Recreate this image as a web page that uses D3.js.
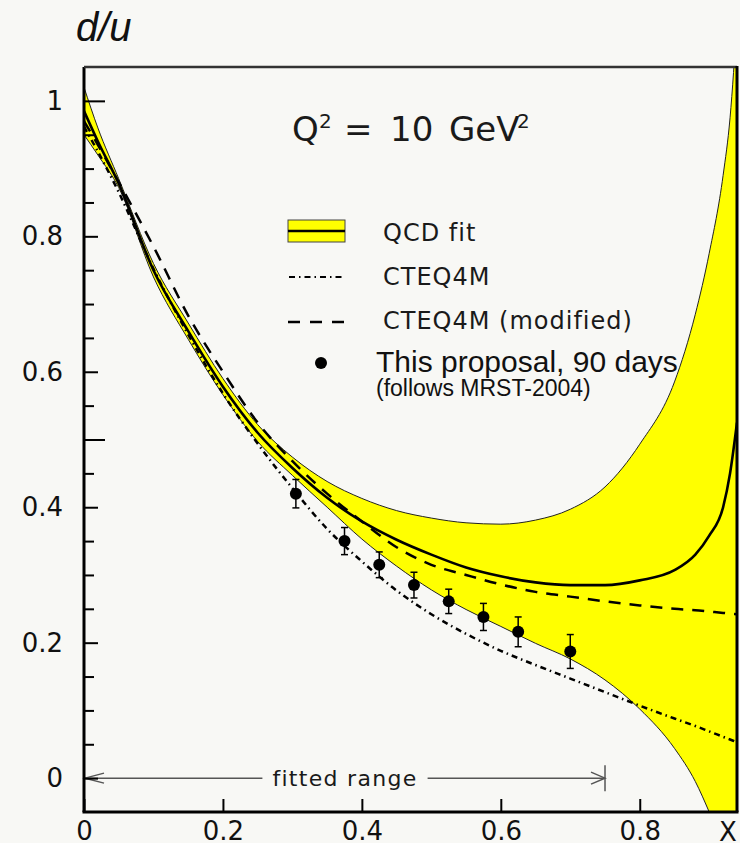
<!DOCTYPE html>
<html lang="en">
<head>
<meta charset="utf-8">
<title>d/u at Q2 = 10 GeV2</title>
<script src="https://cdn.jsdelivr.net/npm/d3@7"></script>
<style>
  html, body { margin: 0; padding: 0; background: #f8f8f5; }
  svg { display: block; }
  .axis .tick text { font-family: "DejaVu Sans", sans-serif; font-size: 26px; fill: #111; }
  .lbl { font-family: "DejaVu Sans", sans-serif; fill: #1a1a1a; }
  .arial { font-family: "Liberation Sans", Arial, sans-serif; fill: #111; }
</style>
</head>
<body>
<svg id="chart" width="740" height="843"></svg>
<script>
// x grid shared by all curves
var xs        = [0, 0.02, 0.05, 0.1, 0.15, 0.2, 0.25, 0.3, 0.35, 0.4, 0.45, 0.5, 0.55, 0.6, 0.65, 0.7, 0.75, 0.8, 0.85, 0.88, 0.9, 0.92, 0.93, 0.94];
var qcdFit    = [0.985, 0.94, 0.878, 0.750, 0.660, 0.578, 0.510, 0.458, 0.414, 0.379, 0.352, 0.330, 0.311, 0.298, 0.289, 0.285, 0.285, 0.292, 0.307, 0.330, 0.358, 0.400, 0.450, 0.525];
var qcdUpper  = [1.02, 0.96, 0.885, 0.760, 0.672, 0.590, 0.522, 0.474, 0.438, 0.413, 0.395, 0.384, 0.377, 0.375, 0.381, 0.397, 0.430, 0.493, 0.585, 0.685, 0.775, 0.890, 0.975, 1.12];
var qcdLower  = [0.95, 0.92, 0.872, 0.740, 0.648, 0.566, 0.497, 0.447, 0.400, 0.353, 0.313, 0.278, 0.249, 0.224, 0.199, 0.176, 0.145, 0.102, 0.044, -0.005, -0.050, -0.100, -0.130, -0.160];
var cteq4m    = [0.962, 0.925, 0.865, 0.752, 0.655, 0.568, 0.494, 0.428, 0.368, 0.320, 0.277, 0.242, 0.213, 0.188, 0.167, 0.147, 0.127, 0.107, 0.088, 0.077, 0.069, 0.061, 0.057, 0.053];
var cteq4mMod = [0.97, 0.935, 0.880, 0.785, 0.683, 0.600, 0.525, 0.468, 0.420, 0.379, 0.341, 0.315, 0.300, 0.286, 0.275, 0.268, 0.261, 0.255, 0.250, 0.248, 0.246, 0.244, 0.243, 0.242];

// projected data (this proposal, 90 days)
var dataX   = [0.305, 0.375, 0.425, 0.475, 0.525, 0.575, 0.625, 0.70];
var dataY   = [0.420, 0.350, 0.315, 0.285, 0.261, 0.238, 0.216, 0.187];
var dataErr = [0.021, 0.020, 0.019, 0.019, 0.018, 0.020, 0.022, 0.025];

var xTicks = [0, 0.2, 0.4, 0.6, 0.8];
var yTicks = [0, 0.2, 0.4, 0.6, 0.8, 1];
var fittedRange = [0, 0.75];

var bg = "#f8f8f5";
var svg = d3.select("#chart");

var pLeft = 84, pRight = 737, pTop = 67, pBottom = 812;
var x = d3.scaleLinear().domain([0, 0.94]).range([pLeft, pRight]);
var y = d3.scaleLinear().domain([-0.05, 1.05]).range([pBottom, pTop]);

svg.append("defs").append("clipPath").attr("id", "plotclip")
  .append("rect").attr("x", pLeft).attr("y", pTop)
  .attr("width", pRight - pLeft).attr("height", pBottom - pTop);

var plot = svg.append("g").attr("clip-path", "url(#plotclip)");

var line = d3.line()
  .x(function(d, i) { return x(xs[i]); })
  .y(function(d) { return y(d); })
  .curve(d3.curveMonotoneX);

var band = d3.area()
  .x(function(d, i) { return x(xs[i]); })
  .y0(function(d, i) { return y(qcdLower[i]); })
  .y1(function(d) { return y(d); })
  .curve(d3.curveMonotoneX);

plot.append("path").attr("d", band(qcdUpper)).attr("fill", "#ffff00");
plot.append("path").attr("d", line(qcdUpper)).attr("fill", "none").attr("stroke", "#222").attr("stroke-width", 1);
plot.append("path").attr("d", line(qcdLower)).attr("fill", "none").attr("stroke", "#222").attr("stroke-width", 1);

plot.append("path").attr("d", line(cteq4m)).attr("fill", "none")
  .attr("stroke", "#000").attr("stroke-width", 2.5).attr("stroke-dasharray", "6,4,1.5,4");
plot.append("path").attr("d", line(cteq4mMod)).attr("fill", "none")
  .attr("stroke", "#000").attr("stroke-width", 2.5).attr("stroke-dasharray", "12,9");
plot.append("path").attr("d", line(qcdFit)).attr("fill", "none")
  .attr("stroke", "#000").attr("stroke-width", 2.6);

// data points with error bars
var pts = plot.selectAll("g.pt").data(dataX).enter().append("g").attr("class", "pt");
pts.append("line")
  .attr("x1", function(d) { return x(d); }).attr("x2", function(d) { return x(d); })
  .attr("y1", function(d, i) { return y(dataY[i] + dataErr[i]); })
  .attr("y2", function(d, i) { return y(dataY[i] - dataErr[i]); })
  .attr("stroke", "#000").attr("stroke-width", 1.5);
[1, -1].forEach(function(s) {
  pts.append("line")
    .attr("x1", function(d) { return x(d) - 3.5; }).attr("x2", function(d) { return x(d) + 3.5; })
    .attr("y1", function(d, i) { return y(dataY[i] + s * dataErr[i]); })
    .attr("y2", function(d, i) { return y(dataY[i] + s * dataErr[i]); })
    .attr("stroke", "#000").attr("stroke-width", 1.5);
});
pts.append("circle")
  .attr("cx", function(d) { return x(d); })
  .attr("cy", function(d, i) { return y(dataY[i]); })
  .attr("r", 6).attr("fill", "#000");

// fitted range arrow
var fr = svg.append("g").attr("stroke", "#555").attr("stroke-width", 1.5).attr("fill", "none");
var fy = y(0), fx0 = x(fittedRange[0]), fx1 = x(fittedRange[1]);
fr.append("line").attr("x1", fx0).attr("x2", fx1).attr("y1", fy).attr("y2", fy);
fr.append("path").attr("d", "M" + (fx0 + 20) + "," + (fy - 5) + "L" + (fx0 + 1) + "," + fy + "L" + (fx0 + 20) + "," + (fy + 5));
fr.append("path").attr("d", "M" + (fx1 - 14) + "," + (fy - 6) + "L" + fx1 + "," + fy + "L" + (fx1 - 14) + "," + (fy + 6));
fr.append("line").attr("x1", fx1).attr("x2", fx1).attr("y1", fy - 13).attr("y2", fy + 13);
var frText = svg.append("text").attr("class", "lbl")
  .attr("x", 345).attr("y", fy + 8)
  .attr("text-anchor", "middle").attr("font-size", 22).attr("letter-spacing", 1.3)
  .text("fitted range");
var bb = frText.node().getBBox();
svg.insert("rect", "text.lbl")
  .attr("x", bb.x - 10).attr("y", fy - 4).attr("width", bb.width + 20).attr("height", 8)
  .attr("fill", bg);

// axes
function near(a, b) { return Math.abs(a - b) < 1e-6; }
function fmt(d) { return near(d, 0) ? "0" : near(d, 1) ? "1" : d.toFixed(1); }

var yAxis = d3.axisLeft(y)
  .tickValues(d3.range(0, 1.0001, 0.05))
  .tickSizeInner(-14).tickSizeOuter(0).tickPadding(21)
  .tickFormat(function(d) { return yTicks.some(function(t) { return near(t, d); }) ? fmt(d) : ""; });

var gy = svg.append("g").attr("class", "axis").attr("transform", "translate(" + pLeft + ",0)").call(yAxis);
gy.selectAll(".tick line")
  .attr("stroke-width", 2)
  .attr("x2", function(d) {
    if (near(d, 0.5) || near(d, 1)) return 21;
    if (yTicks.some(function(t) { return near(t, d); })) return 14;
    return 10;
  });
gy.select(".domain").attr("stroke-width", 3).attr("d", "M0," + pTop + "V" + pBottom);

var xAxis = d3.axisBottom(x)
  .tickValues(xTicks)
  .tickSizeInner(-13).tickSizeOuter(0).tickPadding(10)
  .tickFormat(fmt);
var gx = svg.append("g").attr("class", "axis").attr("transform", "translate(0," + pBottom + ")").call(xAxis);
gx.selectAll(".tick line").attr("stroke-width", 2);
gx.select(".domain").attr("stroke-width", 3).attr("d", "M" + (pLeft - 1.5) + ",0H" + (pRight + 1.5));
gx.append("text").attr("x", 728).attr("y", 28.5).attr("text-anchor", "middle")
  .attr("fill", "#111").attr("font-family", "DejaVu Sans, sans-serif").attr("font-size", 26).text("X");

// frame top/right
svg.append("line").attr("x1", pLeft).attr("x2", pRight).attr("y1", pTop).attr("y2", pTop)
  .attr("stroke", "#333").attr("stroke-width", 2.5);
svg.append("line").attr("x1", pRight).attr("x2", pRight).attr("y1", pTop - 1).attr("y2", pBottom)
  .attr("stroke", "#000").attr("stroke-width", 3);

// title
svg.append("text").attr("class", "arial").attr("x", 76).attr("y", 41)
  .attr("font-size", 40).attr("font-style", "italic").text("d/u");

// Q^2 = 10 GeV^2
var q = svg.append("text").attr("class", "lbl").attr("y", 141).attr("font-size", 34);
q.append("tspan").attr("x", 292).text("Q");
q.append("tspan").attr("x", 319).attr("dy", -13).attr("font-size", 20).text("2");
q.append("tspan").attr("x", 344).attr("dy", 13).text("=");
q.append("tspan").attr("x", 390).text("10");
q.append("tspan").attr("x", 449).text("GeV");
q.append("tspan").attr("x", 517).attr("dy", -13).attr("font-size", 20).text("2");

// legend
var lg = svg.append("g");
lg.append("rect").attr("x", 288).attr("y", 220).attr("width", 57).attr("height", 22)
  .attr("fill", "#ffff00").attr("stroke", "#444").attr("stroke-width", 1);
lg.append("line").attr("x1", 288).attr("x2", 345).attr("y1", 231).attr("y2", 231)
  .attr("stroke", "#000").attr("stroke-width", 2.5);
lg.append("line").attr("x1", 289).attr("x2", 345).attr("y1", 277).attr("y2", 277)
  .attr("stroke", "#000").attr("stroke-width", 2).attr("stroke-dasharray", "6,4,1.5,4");
lg.append("line").attr("x1", 288).attr("x2", 345).attr("y1", 322).attr("y2", 322)
  .attr("stroke", "#000").attr("stroke-width", 2.5).attr("stroke-dasharray", "12,10");
lg.append("circle").attr("cx", 321).attr("cy", 363).attr("r", 6).attr("fill", "#000");

[["QCD fit", 241], ["CTEQ4M", 285], ["CTEQ4M (modified)", 329]].forEach(function(e) {
  lg.append("text").attr("class", "lbl").attr("x", 383).attr("y", e[1])
    .attr("font-size", 24).attr("letter-spacing", 1).text(e[0]);
});
lg.append("text").attr("class", "arial").attr("x", 376).attr("y", 372)
  .attr("font-size", 30).text("This proposal, 90 days");
lg.append("text").attr("class", "arial").attr("x", 376).attr("y", 396)
  .attr("font-size", 23).text("(follows MRST-2004)");
</script>
</body>
</html>
